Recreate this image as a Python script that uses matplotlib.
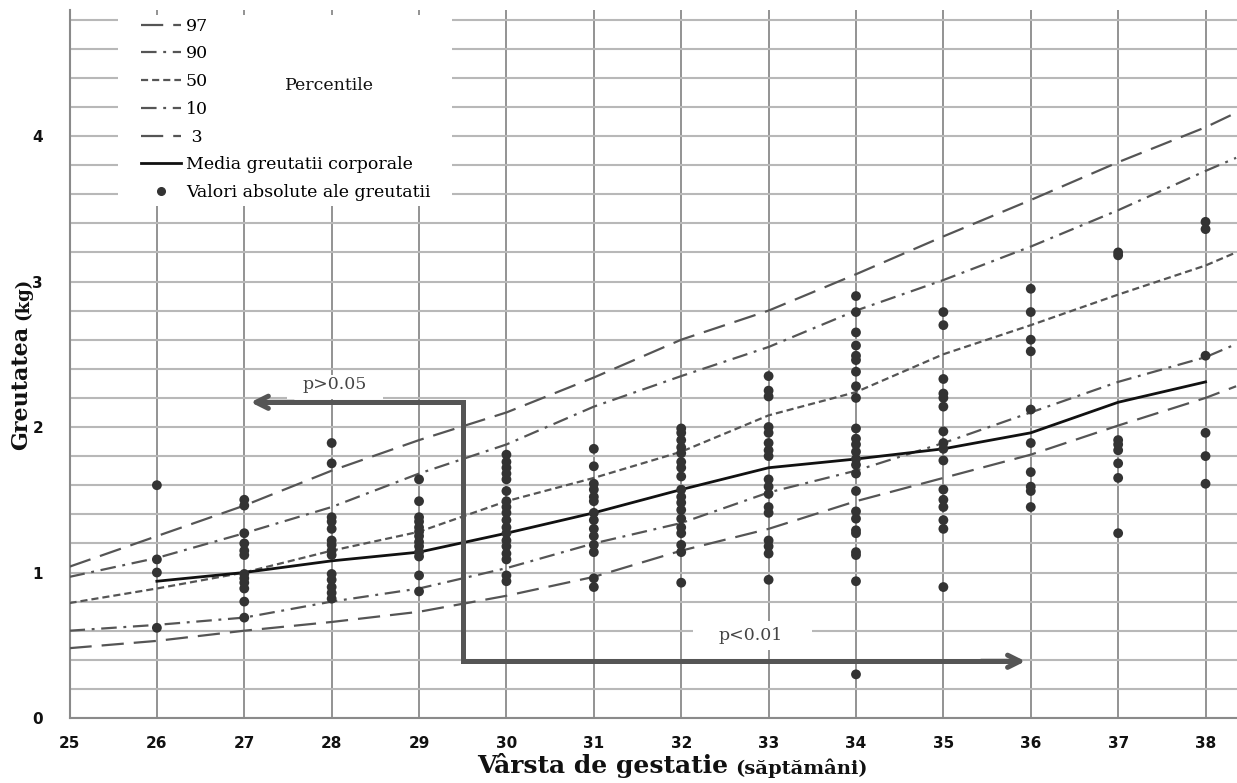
import numpy as np
import matplotlib
matplotlib.use('Agg')
import matplotlib.pyplot as plt
from matplotlib.lines import Line2D
from matplotlib.patches import Rectangle

# percentile curves (kg), weeks 25..38 plus the right edge
pct_weeks = [25, 26, 27, 28, 29, 30, 31, 32, 33, 34, 35, 36, 37, 38, 38.35]
p97 = [1.04, 1.25, 1.46, 1.70, 1.91, 2.10, 2.34, 2.60, 2.80, 3.05, 3.31, 3.56, 3.82, 4.06, 4.16]
p90 = [0.97, 1.10, 1.27, 1.45, 1.68, 1.88, 2.14, 2.35, 2.55, 2.80, 3.01, 3.24, 3.49, 3.76, 3.85]
p50 = [0.79, 0.89, 1.00, 1.15, 1.28, 1.49, 1.65, 1.83, 2.08, 2.24, 2.50, 2.70, 2.91, 3.11, 3.20]
p10 = [0.60, 0.64, 0.69, 0.80, 0.89, 1.03, 1.20, 1.34, 1.55, 1.70, 1.89, 2.10, 2.31, 2.48, 2.57]
p3 = [0.48, 0.53, 0.60, 0.66, 0.73, 0.84, 0.97, 1.15, 1.30, 1.49, 1.65, 1.81, 2.01, 2.20, 2.28]

# mean body weight
mean_weeks = [26, 27, 28, 29, 30, 31, 32, 33, 34, 35, 36, 37, 38]
mean_weight = [0.94, 1.00, 1.08, 1.14, 1.27, 1.41, 1.57, 1.72, 1.78, 1.85, 1.96, 2.17, 2.31]

# individual weights per gestational week
dot_weeks = [26, 27, 28, 29, 30, 31, 32, 33, 34, 35, 36, 37, 38]
dot_values = [
    [1.60, 1.09, 1.00, 0.62],
    [1.50, 1.46, 1.27, 1.20, 1.15, 1.12, 0.99, 0.96, 0.93, 0.89, 0.80, 0.69],
    [1.89, 1.75, 1.38, 1.35, 1.30, 1.22, 1.19, 1.15, 1.12, 0.99, 0.95, 0.90, 0.86, 0.82],
    [1.64, 1.49, 1.38, 1.35, 1.31, 1.28, 1.25, 1.21, 1.18, 1.14, 1.11, 0.98, 0.87],
    [1.81, 1.76, 1.72, 1.68, 1.64, 1.56, 1.49, 1.45, 1.41, 1.36, 1.31, 1.27, 1.22, 1.18,
     1.13, 1.09, 0.98, 0.94],
    [1.85, 1.73, 1.61, 1.57, 1.52, 1.49, 1.41, 1.36, 1.30, 1.25, 1.19, 1.14, 0.96, 0.90],
    [1.99, 1.96, 1.91, 1.86, 1.82, 1.76, 1.72, 1.66, 1.57, 1.52, 1.48, 1.43, 1.37, 1.31,
     1.27, 1.19, 1.14, 0.93],
    [2.35, 2.25, 2.21, 2.00, 1.96, 1.89, 1.84, 1.80, 1.64, 1.59, 1.54, 1.45, 1.41, 1.22,
     1.18, 1.13, 0.95],
    [2.90, 2.79, 2.65, 2.56, 2.49, 2.46, 2.38, 2.28, 2.20, 1.99, 1.92, 1.88, 1.83, 1.78,
     1.74, 1.68, 1.56, 1.42, 1.37, 1.29, 1.27, 1.14, 1.12, 0.94, 0.30],
    [2.79, 2.70, 2.33, 2.23, 2.20, 2.14, 1.97, 1.89, 1.85, 1.77, 1.57, 1.50, 1.45, 1.36,
     1.30, 0.90],
    [2.95, 2.79, 2.60, 2.52, 2.12, 1.89, 1.69, 1.59, 1.56, 1.45],
    [3.20, 3.18, 1.91, 1.88, 1.84, 1.75, 1.65, 1.27],
    [3.41, 3.36, 2.49, 1.96, 1.80, 1.61],
]

percentile_labels = ['97', '90', '50', '10', ' 3']

line_col = '#555555'
long_dash = (0, (10, 4.5))
dash_dot = (0, (7, 3, 1.3, 3))
short_dash = (0, (3.2, 1.8))
serif = 'DejaVu Serif'

fig = plt.figure(figsize=(12.37, 7.83), dpi=100)
ax = fig.add_axes([69.5 / 1237, 65 / 783, 1 - 69.5 / 1237, 708 / 783])
ax.set_xlim(25, 38.36)
ax.set_ylim(0, 4.866)

# grid
ax.set_xticks(range(25, 39))
ax.set_yticks(range(0, 5))
ax.set_yticks(np.arange(0, 4.81, 0.2), minor=True)
ax.grid(axis='x', which='major', color='#808080', lw=1.2, zorder=0)
ax.grid(axis='y', which='both', color='#b8b8b8', lw=1.5, zorder=0)
ax.set_axisbelow(True)
for s in ['top', 'right']:
    ax.spines[s].set_visible(False)
for s in ['left', 'bottom']:
    ax.spines[s].set_color('#8a8a8a')
    ax.spines[s].set_linewidth(1.5)
ax.tick_params(which='both', length=0)
ax.tick_params(axis='x', pad=13)
ax.tick_params(axis='y', pad=19)
for lab in ax.get_xticklabels() + ax.get_yticklabels():
    lab.set_fontweight('bold')
    lab.set_fontsize(11)
    lab.set_color('#111111')

# percentile curves
styles = [long_dash, dash_dot, short_dash, dash_dot, long_dash]
for vals, ls in zip([p97, p90, p50, p10, p3], styles):
    ax.plot(pct_weeks, vals, color=line_col, lw=1.6, ls=ls, zorder=3)

ax.plot(mean_weeks, mean_weight, color='#111111', lw=2.0, zorder=4)

xs = np.concatenate([[w] * len(v) for w, v in zip(dot_weeks, dot_values)])
ys = np.concatenate(dot_values)
ax.scatter(xs, ys, s=50, color='#333333', edgecolors='none', zorder=5)

# significance brackets
arrow_col = '#555555'
ax.plot([27.2, 29.5, 29.5, 35.8], [2.17, 2.17, 0.39, 0.39], color=arrow_col, lw=3.6,
        solid_joinstyle='miter', zorder=6)
ax.annotate('', xy=(27.04, 2.17), xytext=(27.6, 2.17),
            arrowprops=dict(arrowstyle='->', color=arrow_col, lw=3.6, mutation_scale=22), zorder=6)
ax.annotate('', xy=(35.97, 0.39), xytext=(35.4, 0.39),
            arrowprops=dict(arrowstyle='->', color=arrow_col, lw=3.6, mutation_scale=22), zorder=6)
ax.add_patch(Rectangle((27.49, 2.19), 1.1, 0.17, facecolor='white', edgecolor='none', zorder=2))
ax.text(28.03, 2.29, 'p>0.05', ha='center', va='center', fontsize=12.5, family=serif,
        color='#444444', zorder=7)
ax.add_patch(Rectangle((32.13, 0.47), 1.37, 0.2, facecolor='white', edgecolor='none', zorder=2))
ax.text(32.8, 0.57, 'p<0.01', ha='center', va='center', fontsize=12.5, family=serif,
        color='#444444', zorder=7)

# legend
ax.add_patch(Rectangle((25.55, 3.52), 3.83, 1.31, facecolor='white', edgecolor='none', zorder=2))
handles = [Line2D([], [], color=line_col, lw=1.6, ls=ls) for ls in styles]
handles.append(Line2D([], [], color='#111111', lw=2.0))
handles.append(Line2D([], [], color='#333333', ls='none', marker='o', markersize=5.5))
labels = percentile_labels + ['Media greutatii corporale', 'Valori absolute ale greutatii']
leg = ax.legend(handles, labels, loc='upper left', bbox_to_anchor=(0.052, 1.004), frameon=False,
                prop={'family': serif, 'size': 12.5}, handlelength=2.35,
                handletextpad=0.25, labelspacing=0.62, borderaxespad=0.2)
leg.set_zorder(8)
ax.text(27.97, 4.35, 'Percentile', ha='center', va='center', fontsize=12.5,
        family=serif, color='#111111', zorder=8)

# axis titles
t1 = fig.text(477 / 1237, 0.006, 'Vârsta de gestatie', fontsize=18, fontweight='bold',
              family=serif, color='#111111', va='bottom', ha='left')
ax.annotate('(săptămâni)', xy=(1, 0), xycoords=t1, xytext=(5, 0), textcoords='offset points',
            fontsize=14, fontweight='bold', family=serif, color='#111111',
            va='bottom', ha='left', annotation_clip=False)

t3 = fig.text(10 / 1237, (783 - 450) / 783, 'Greutatea', fontsize=16, fontweight='bold',
              family=serif, rotation=90, color='#111111', ha='left', va='bottom')
ax.annotate('(kg)', xy=(1, 1), xycoords=t3, xytext=(0, 4), textcoords='offset points',
            fontsize=13, fontweight='bold', family=serif, rotation=90,
            color='#111111', ha='right', va='bottom', annotation_clip=False)

fig.savefig('out.png', dpi=100)
